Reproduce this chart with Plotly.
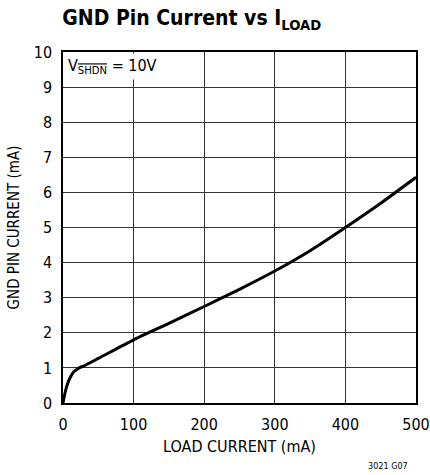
import plotly.graph_objects as go

load_ma = [0, 3, 6, 10, 15, 20, 25, 30, 50, 100, 150, 200, 250, 300, 350, 400, 450, 500]
gnd_ma = [0, 0.3, 0.52, 0.72, 0.88, 0.96, 1.02, 1.06, 1.27, 1.8, 2.27, 2.75, 3.24, 3.76, 4.34, 5.0, 5.69, 6.43]

x_ticks = [0, 100, 200, 300, 400, 500]
y_ticks = list(range(0, 11))

FONT = "DejaVu Sans Condensed, Liberation Sans Narrow, Arial Narrow, sans-serif"

fig = go.Figure()
fig.add_trace(go.Scatter(x=load_ma, y=gnd_ma, mode="lines",
                         line=dict(color="black", width=3, shape="spline", smoothing=0.5),
                         hoverinfo="skip"))

fig.update_layout(
    width=430, height=475,
    margin=dict(l=63, r=14, t=52, b=72, autoexpand=False),
    paper_bgcolor="white", plot_bgcolor="white",
    showlegend=False,
    font=dict(family=FONT, color="black", size=15),
    title=dict(text="<b>GND Pin Current vs I<sub>LOAD</sub></b>",
               x=0.145, xanchor="left", y=0.978, yanchor="top",
               font=dict(size=21, family=FONT, color="black")),
)
fig.update_xaxes(range=[0, 500], tickvals=x_ticks, ticks="outside", ticklen=6, tickcolor="rgba(0,0,0,0)",
                 showgrid=True, automargin=False,
                 gridcolor="#333", gridwidth=1, zeroline=False,
                 showline=True, linecolor="black", linewidth=1.5, mirror=True,
                 tickfont=dict(size=16), title=dict(text="LOAD CURRENT (mA)", font=dict(size=16), standoff=8))
fig.update_yaxes(range=[0, 10], tickvals=y_ticks, ticks="outside", ticklen=6, tickcolor="rgba(0,0,0,0)",
                 showgrid=True, automargin=False,
                 gridcolor="#333", gridwidth=1, zeroline=False,
                 showline=True, linecolor="black", linewidth=1.5, mirror=True,
                 tickfont=dict(size=16), title=dict(text="GND PIN CURRENT (mA)", font=dict(size=15), standoff=10))

fig.add_annotation(x=0, y=10, xref="x", yref="y", xanchor="left", yanchor="top",
                   text="V<sub><span style='text-decoration:overline'>SHDN</span></sub> = 10V",
                   showarrow=False, bgcolor="white", borderpad=2, xshift=2, yshift=-1,
                   font=dict(size=16, family=FONT))
fig.add_annotation(x=1, y=0, xref="paper", yref="paper", xanchor="right", yanchor="top",
                   text="3021 G07", showarrow=False, yshift=-56, xshift=-6,
                   font=dict(size=9, family=FONT))

fig.write_html("out.html", config={"displayModeBar": False},
               post_script="document.body.style.margin='0';document.body.style.padding='0';")
